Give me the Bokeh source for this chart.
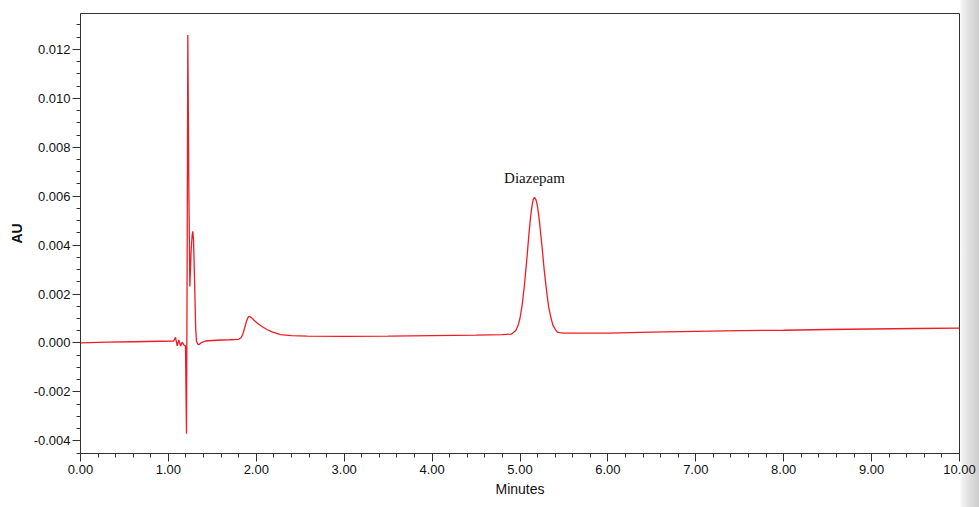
from bokeh.plotting import figure
from bokeh.models import Range1d, SingleIntervalTicker, NumeralTickFormatter, ColumnDataSource
from bokeh.core.properties import value
from bokeh.embed import file_html
from bokeh.resources import INLINE

# Chromatogram trace (minutes, AU)
minutes = [
    0.00, 0.30, 0.60, 0.90, 1.06, 1.081, 1.100, 1.119, 1.138, 1.157, 1.176, 1.1945,
    1.206, 1.213, 1.221, 1.232, 1.244, 1.259, 1.270, 1.278, 1.286, 1.298, 1.310,
    1.320, 1.335, 1.346, 1.370, 1.420, 1.500, 1.600, 1.700, 1.800, 1.830, 1.850, 1.870,
    1.890, 1.905, 1.915, 1.930, 1.950, 1.975, 2.010, 2.060, 2.120, 2.180, 2.275, 2.400, 2.580,
    3.000, 3.500, 4.000, 4.500, 4.800, 4.900, 4.950, 4.975, 5.000, 5.025, 5.050, 5.075,
    5.100, 5.110, 5.120, 5.130, 5.140, 5.150, 5.165, 5.180, 5.190, 5.200, 5.210, 5.220,
    5.230, 5.250, 5.275, 5.300, 5.325, 5.350, 5.375, 5.400, 5.425, 5.450, 5.500,
    6.000, 6.500, 7.000, 7.500, 8.000, 8.500, 9.000, 9.500, 10.00,
]
absorbance = [
    0.00000, 0.00003, 0.00005, 0.00007, 0.00008, 0.00023, -0.00012, 0.00012, -0.00013, 0.00003, -0.00008, -0.00013,
    -0.00371, 0.00300, 0.01259, 0.00650, 0.00231, 0.00380, 0.00440, 0.00456, 0.00420, 0.00250, 0.00060,
    0.00007, -0.00005, -0.00007, 0.00000, 0.00008, 0.00010, 0.00012, 0.00013, 0.00015, 0.00022, 0.00040, 0.00065,
    0.00090, 0.00104, 0.00109, 0.00107, 0.00102, 0.00093, 0.00082, 0.00068, 0.00055, 0.00045, 0.00034, 0.00030, 0.00028,
    0.00027, 0.00028, 0.00030, 0.00032, 0.00034, 0.00036, 0.00050, 0.00068, 0.00101, 0.00156, 0.00235, 0.00332,
    0.00438, 0.00477, 0.00513, 0.00544, 0.00568, 0.00585, 0.00595, 0.00587, 0.00574, 0.00556, 0.00529, 0.00500,
    0.00466, 0.00396, 0.00300, 0.00220, 0.00150, 0.00106, 0.00072, 0.00057, 0.00044, 0.00042, 0.00040,
    0.00040, 0.00044, 0.00047, 0.00050, 0.00052, 0.00055, 0.00057, 0.00059, 0.00061,
]

peak_name = ["Diazepam"]
peak_time = [5.165]
peak_height = [0.00595]

x_ticks_interval = 1.0
y_ticks_interval = 0.002

p = figure(width=979, height=507, output_backend="svg", toolbar_location=None,
           x_range=Range1d(0, 10), y_range=Range1d(-0.00452, 0.01347),
           min_border_left=80, min_border_right=20, min_border_top=13, min_border_bottom=54)

# scanned-page edge shading behind the right border (CSS background shows through transparent border fill)
p.border_fill_alpha = 0
p.styles = {"background": "linear-gradient(to right, #ffffff 960px, #f6f6f6 961px, #e2e2e2 968px, #cccccc 979px)"}

p.line(minutes, absorbance, line_color="#ee1c25", line_width=1.3)

src = ColumnDataSource(dict(x=peak_time, y=peak_height, t=peak_name))
p.text(x="x", y="y", text="t", source=src, text_align="center", text_baseline="bottom",
       y_offset=-11, text_font=value("Liberation Serif"), text_font_size="15px", text_color="#111111")

p.grid.visible = False
p.outline_line_color = "#333333"
p.outline_line_width = 1
p.background_fill_color = "white"

p.xaxis.ticker = SingleIntervalTicker(interval=x_ticks_interval, num_minor_ticks=5)
p.yaxis.ticker = SingleIntervalTicker(interval=y_ticks_interval, num_minor_ticks=4)
p.xaxis.formatter = NumeralTickFormatter(format="0.00")
p.yaxis.formatter = NumeralTickFormatter(format="0.000")
p.xaxis.axis_label = "Minutes"
p.yaxis.axis_label = "AU"

for ax in (p.xaxis, p.yaxis):
    ax.axis_line_color = "#333333"
    ax.major_tick_line_color = "#333333"
    ax.minor_tick_line_color = "#333333"
    ax.major_tick_out = 8
    ax.major_tick_in = 0
    ax.minor_tick_out = 4
    ax.minor_tick_in = 0
    ax.major_label_text_font = "Liberation Sans"
    ax.major_label_text_font_size = "13px"
    ax.major_label_text_color = "#111111"
    ax.axis_label_text_font = "Liberation Sans"
    ax.axis_label_text_font_style = "normal"
    ax.axis_label_text_color = "#111111"

p.xaxis.axis_label_text_font_size = "14px"
p.yaxis.axis_label_text_font_size = "14px"
p.yaxis.axis_label_text_font_style = "bold"
p.xaxis.major_label_standoff = 3
p.yaxis.major_label_standoff = 2
p.xaxis.axis_label_standoff = 4
p.yaxis.axis_label_standoff = 6

open("out.html", "w").write(file_html(p, INLINE))
